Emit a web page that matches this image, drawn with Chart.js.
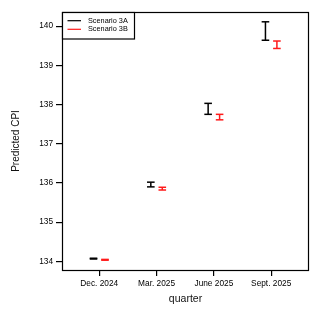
<!DOCTYPE html>
<html>
<head>
<meta charset="utf-8">
<script src="https://cdn.jsdelivr.net/npm/chart.js@4"></script>
<style>
  html, body { margin: 0; padding: 0; background: #fff; }
  #wrap { width: 325px; height: 309px; position: relative; }
</style>
</head>
<body>
<div id="wrap"><canvas id="cpiChart"></canvas></div>
<script>
// quarters and interval ends
const quarters = ['Dec. 2024', 'Mar. 2025', 'June 2025', 'Sept. 2025'];
const lowA  = [134.06, 135.90, 137.75, 139.64];
const highA = [134.08, 136.02, 138.03, 140.11];
const lowB  = [134.03, 135.82, 137.61, 139.43];
const highB = [134.05, 135.89, 137.75, 139.62];
const yTicks = [134, 135, 136, 137, 138, 139, 140];
const seriesNames = ['Scenario 3A', 'Scenario 3B'];

const FONT = 'Liberation Sans, Arial, sans-serif';

function intervals(low, high, shift) {
    const pts = [];
    for (let i = 0; i < low.length; i++) {
        pts.push({ x: i + shift, y: low[i] });
        pts.push({ x: i + shift, y: high[i] });
        pts.push({ x: i + shift, y: null });
    }
    return pts;
}

function errSet(label, pts, color) {
    return {
        label: label,
        data: pts,
        borderColor: color,
        borderWidth: 1.5,
        pointStyle: 'line',
        pointRadius: 3.8,
        pointBorderColor: color,
        pointBorderWidth: 1.5,
        spanGaps: false,
        fill: false
    };
}

// box round the plot + legend inside top-left corner
const boxPlugin = {
    id: 'boxPlugin',
    afterDraw(chart) {
        const { ctx, chartArea: a } = chart;
        ctx.save();
        ctx.strokeStyle = '#000';
        ctx.lineWidth = 1.2;
        ctx.strokeRect(a.left + 0.5, a.top + 0.5, a.right - a.left - 1, a.bottom - a.top);

        const bx = a.left, by = a.top, bw = 72, bh = 26.5;
        ctx.fillStyle = '#fff';
        ctx.fillRect(bx, by, bw, bh);
        ctx.strokeRect(bx + 0.5, by + 0.5, bw, bh);
        ctx.font = '7.3px ' + FONT;
        ctx.textBaseline = 'middle';
        chart.data.datasets.forEach((ds, i) => {
            const y = by + 8.7 + i * 8.6;
            ctx.strokeStyle = ds.borderColor;
            ctx.lineWidth = 1.2;
            ctx.beginPath();
            ctx.moveTo(bx + 5.5, y);
            ctx.lineTo(bx + 19, y);
            ctx.stroke();
            ctx.fillStyle = '#000';
            ctx.fillText(ds.label, bx + 26, y);
        });
        ctx.restore();
    }
};

new Chart(document.getElementById('cpiChart'), {
    type: 'line',
    data: {
        datasets: [
            errSet(seriesNames[0], intervals(lowA, highA, -0.1), '#000000'),
            errSet(seriesNames[1], intervals(lowB, highB, 0.1), '#ff1a1a')
        ]
    },
    options: {
        responsive: true,
        maintainAspectRatio: false,
        animation: false,
        layout: { padding: { top: 12, right: 16, left: 0, bottom: 0 } },
        plugins: { legend: { display: false }, tooltip: { enabled: false } },
        scales: {
            x: {
                type: 'linear',
                min: -0.65,
                max: 3.66,
                afterBuildTicks: (s) => { s.ticks = quarters.map((q, i) => ({ value: i })); },
                afterFit: (s) => { s.height = 39; },
                border: { display: false },
                grid: { drawOnChartArea: false, tickLength: 6, color: '#000', lineWidth: 1.2 },
                ticks: {
                    autoSkip: false, maxRotation: 0, padding: 3, color: '#000',
                    font: { family: FONT, size: 8.3 },
                    callback: (v) => quarters[v]
                },
                title: {
                    display: true, text: 'quarter', color: '#111',
                    font: { family: FONT, size: 10.5 }, padding: { top: 0, bottom: 4 }
                }
            },
            y: {
                min: 133.78,
                max: 140.36,
                afterBuildTicks: (s) => { s.ticks = yTicks.map(v => ({ value: v })); },
                afterFit: (s) => { s.width = 62; },
                border: { display: false },
                grid: { drawOnChartArea: false, tickLength: 6, color: '#000', lineWidth: 1.2 },
                ticks: {
                    padding: 3, color: '#000',
                    font: { family: FONT, size: 8.3 }
                },
                title: {
                    display: true, text: 'Predicted CPI', color: '#111',
                    font: { family: FONT, size: 10 }, padding: { top: 10, bottom: 0 }
                }
            }
        }
    },
    plugins: [boxPlugin]
});
</script>
</body>
</html>
